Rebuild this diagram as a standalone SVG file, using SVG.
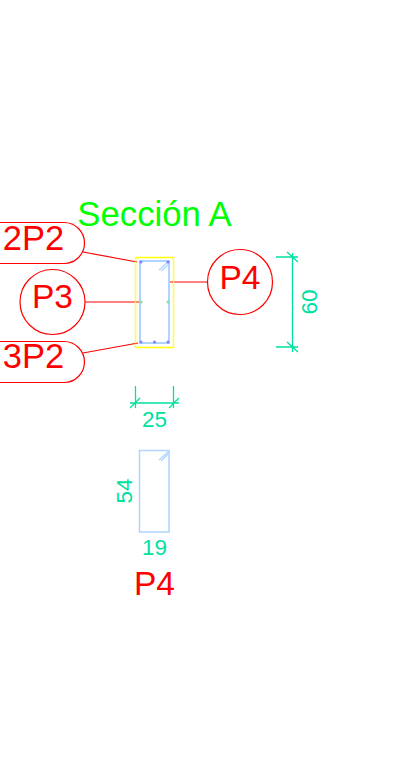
<svg xmlns="http://www.w3.org/2000/svg" width="407" height="764" viewBox="0 0 407 764">
<style>
text{font-family:"Liberation Sans",Arial,sans-serif}
.r{fill:none;stroke:#f00;stroke-width:1.200}
.rt{fill:#f00;font-size:34.500px;text-anchor:middle}
.rs{font-size:33.500px}
.g{fill:none;stroke:#00e0a0;stroke-width:1.300}
.gt{fill:#00e0a0;font-size:22.500px;text-anchor:middle}
.b{fill:none;stroke:#aed4ff;stroke-width:1.500}
.dot{fill:#7f7fff}
.dg{fill:#7fdfa5}
</style>
<rect width="407" height="764" fill="#fff"/>
<g id="title"><text x="154.500" y="226" font-size="34.700" fill="#0f0" text-anchor="middle">Sección A</text></g>
<g id="connectors">
<path class="r" d="M83 252L137 262M85 302H139M83 353L138 343M169 282H207"/>
</g>
<g id="section">
<rect x="135.500" y="257.500" width="38" height="90" fill="none" stroke="#ff0" stroke-width="1.500" stroke-dasharray="1.500 .5"/>
<rect x="140" y="261" width="29" height="82" class="b" style="stroke-width:2"/>
<path class="b" d="M159 270L169 261M161 271L169 264" style="stroke-width:1.200"/>
<circle class="dot" cx="141" cy="262" r="1.500"/><circle class="dot" cx="168" cy="262" r="1.500"/>
<circle class="dg" cx="141" cy="302" r="1.500"/><circle class="dg" cx="168" cy="302" r="1.500"/>
<circle class="dot" cx="141" cy="342" r="1.500"/><circle class="dot" cx="154.500" cy="342" r="1.500"/><circle class="dot" cx="168" cy="342" r="1.500"/>
</g>
<g id="p2-top"><path class="r" d="M0 222.500H64A20.500 20.500 0 0 1 64 263.500H0"/><text class="rt" x="33.500" y="250">2P2</text></g>
<g id="p3"><circle class="r" cx="52.500" cy="302" r="32.500"/><text class="rt rs" x="52.500" y="308">P3</text></g>
<g id="p2-bot"><path class="r" d="M0 341.500H64A20.500 20.500 0 0 1 64 382.500H0"/><text class="rt" x="33.500" y="368">3P2</text></g>
<g id="p4-tag"><circle class="r" cx="240" cy="282" r="32.500"/><text class="rt rs" x="240" y="289">P4</text></g>
<g id="dim-60">
<path class="g" d="M292.500 253V352M276 257H298M276 347H298M287 252L298 262M287 342L298 352"/>
<text class="gt" transform="translate(317 302) rotate(-90)">60</text>
</g>
<g id="dim-25">
<path class="g" d="M135.500 386V408M173.500 386V408M130 403H179M130 408L140 398M169 408L179 398"/>
<text class="gt" x="154.500" y="427">25</text>
</g>
<g id="beam">
<rect x="139.500" y="450.500" width="29.500" height="81.500" class="b"/>
<path class="b" d="M159 460L169 451M161 461L169 453" style="stroke-width:1.200"/>
<text class="gt" transform="translate(132 491) rotate(-90)">54</text>
<text class="gt" x="154.500" y="555">19</text>
</g>
<g id="p4-label"><text class="rt rs" x="154.500" y="595">P4</text></g>
</svg>
